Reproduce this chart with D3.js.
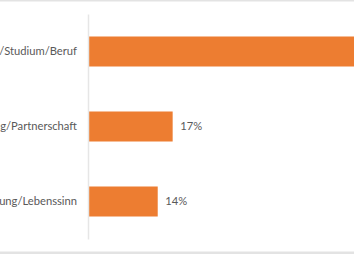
<!DOCTYPE html>
<html>
<head>
<meta charset="utf-8">
<script src="https://cdn.jsdelivr.net/npm/d3@7"></script>
<style>
  body { margin: 0; background: #fff; overflow: hidden; }
  text { font-family: Lato, "Noto Sans", sans-serif; }
</style>
</head>
<body>
<div id="chart"></div>
<script>
  var categories = ["Schule/Ausbildung/Studium/Beruf", "Liebe/Beziehung/Partnerschaft", "Zukunftsplanung/Lebenssinn"];
  var values = [69, 17, 14];
  var valueLabels = ["69%", "17%", "14%"];

  var W = 354, H = 254,
      margin = { top: 14, bottom: 15, left: 88 };

  var svg = d3.select("#chart").append("svg")
      .attr("width", W)
      .attr("height", H);

  // frame lines, top and bottom
  svg.append("rect").attr("x", 0).attr("y", 0).attr("width", W).attr("height", 1.5).attr("fill", "#e3e3e3");
  svg.append("rect").attr("x", 0).attr("y", 251.5).attr("width", W).attr("height", 2.5).attr("fill", "#e3e3e3");

  var y = d3.scaleBand()
      .domain(categories)
      .range([margin.top, H - margin.bottom])
      .paddingInner(0.6)
      .paddingOuter(0.3);

  var x = d3.scaleLinear()
      .domain([0, 10])
      .range([margin.left, margin.left + 49.8]);

  svg.selectAll(".bar")
      .data(categories)
      .enter().append("rect")
      .attr("class", "bar")
      .attr("x", x(0))
      .attr("y", function(d) { return y(d); })
      .attr("width", function(d, i) { return x(values[i]) - x(0); })
      .attr("height", y.bandwidth())
      .attr("fill", "#ED7D31");

  svg.selectAll(".val")
      .data(categories)
      .enter().append("text")
      .attr("class", "val")
      .attr("x", function(d, i) { return x(values[i]) + 7.5; })
      .attr("y", function(d) { return y(d) + y.bandwidth() / 2; })
      .attr("dy", "0.35em")
      .attr("font-size", 11.2)
      .attr("fill", "#595959")
      .text(function(d, i) { return valueLabels[i]; });

  var yAxis = svg.append("g")
      .attr("transform", "translate(" + margin.left + ",0)")
      .call(d3.axisLeft(y).tickSize(0).tickPadding(11));
  yAxis.select(".domain").attr("stroke", "#e6e6e6").attr("stroke-width", 1.5);
  yAxis.selectAll("text")
      .attr("font-size", 11.2)
      .attr("fill", "#595959")
      .style("font-family", "Lato, 'Noto Sans', sans-serif");
</script>
</body>
</html>
